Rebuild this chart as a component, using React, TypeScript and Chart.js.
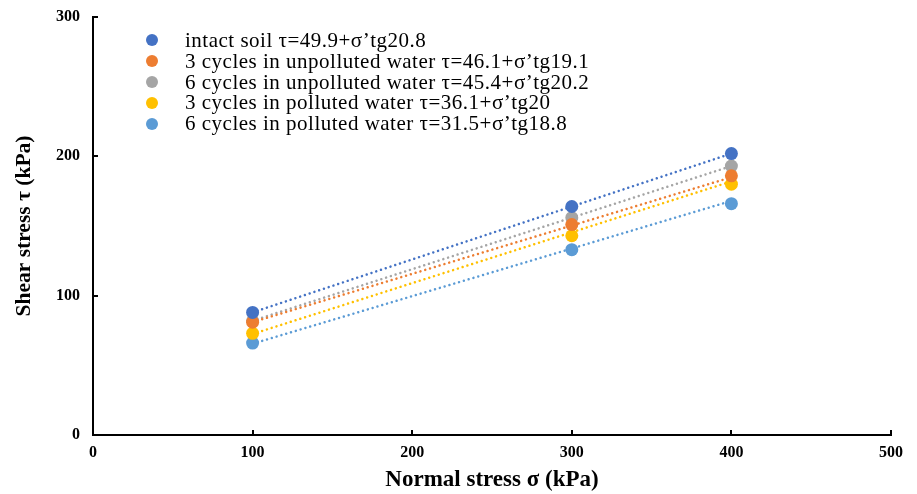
import React, { useEffect, useRef } from 'react';
import { Chart, registerables } from 'chart.js';
Chart.register(...registerables);

const normalStress = [100, 300, 400];
const intactSoil = [88, 164, 202];
const cycles3Unpolluted = [81, 151, 186];
const cycles6Unpolluted = [82, 156, 193];
const cycles3Polluted = [73, 143, 180];
const cycles6Polluted = [66, 133, 166];

const trendStress = [100, 400];
const intactTrend = [88, 202];
const cycles3UnpollutedTrend = [81, 185];
const cycles6UnpollutedTrend = [82, 193];
const cycles3PollutedTrend = [72.5, 182];
const cycles6PollutedTrend = [65.5, 168];

const seriesLabels = [
  'intact soil τ=49.9+σ’tg20.8',
  '3 cycles in unpolluted water τ=46.1+σ’tg19.1',
  '6 cycles in unpolluted water τ=45.4+σ’tg20.2',
  '3 cycles in polluted water τ=36.1+σ’tg20',
  '6 cycles in polluted water τ=31.5+σ’tg18.8',
];
const colors = ['#4472C4', '#ED7D31', '#A5A5A5', '#FFC000', '#5B9BD5'];
const pointSeries = [intactSoil, cycles3Unpolluted, cycles6Unpolluted, cycles3Polluted, cycles6Polluted];
const trendSeries = [intactTrend, cycles3UnpollutedTrend, cycles6UnpollutedTrend, cycles3PollutedTrend, cycles6PollutedTrend];

const xTicks = [0, 100, 200, 300, 400, 500];
const yTicks = [0, 100, 200, 300];

const FONT = '"Liberation Serif", "Times New Roman", serif';

const innerTicks = {
  id: 'innerTicks',
  afterDraw(chart: any) {
    const ctx = chart.ctx;
    const xs = chart.scales.x;
    const ys = chart.scales.y;
    ctx.save();
    ctx.strokeStyle = '#000';
    ctx.lineWidth = 2;
    const bottom = ys.getPixelForValue(0);
    const left = xs.getPixelForValue(0);
    xTicks.forEach((v) => {
      if (v === 0) return;
      const px = Math.round(xs.getPixelForValue(v));
      ctx.beginPath();
      ctx.moveTo(px, bottom);
      ctx.lineTo(px, bottom - 5);
      ctx.stroke();
    });
    yTicks.forEach((v) => {
      if (v === 0) return;
      const py = Math.round(ys.getPixelForValue(v));
      ctx.beginPath();
      ctx.moveTo(left, py);
      ctx.lineTo(left + 5, py);
      ctx.stroke();
    });
    ctx.restore();
  },
};

export default function App() {
  const ref = useRef<HTMLCanvasElement | null>(null);
  useEffect(() => {
    document.body.style.margin = '0';
    const datasets: any[] = [];
    pointSeries.forEach((vals, i) => {
      datasets.push({
        label: seriesLabels[i],
        data: normalStress.map((x, j) => ({ x, y: vals[j] })),
        backgroundColor: colors[i],
        borderColor: colors[i],
        pointRadius: 6.5,
        pointBorderWidth: 0,
        showLine: false,
        order: i,
      });
    });
    trendSeries.forEach((vals, i) => {
      datasets.push({
        label: seriesLabels[i] + ' trend',
        data: trendStress.map((x, j) => ({ x, y: vals[j] })),
        borderColor: colors[i],
        borderWidth: 2.5,
        borderDash: [0.01, 5],
        borderCapStyle: 'round',
        pointRadius: 0,
        showLine: true,
        fill: false,
        order: 10 + i,
      });
    });
    const chart = new Chart(ref.current!, {
      type: 'scatter',
      data: { datasets },
      plugins: [innerTicks],
      options: {
        responsive: false,
        animation: false,
        layout: { padding: { top: 17, right: 26, left: 0, bottom: 0 } },
        plugins: { legend: { display: false }, tooltip: { enabled: false } },
        scales: {
          x: {
            type: 'linear',
            min: 0,
            max: 500,
            afterBuildTicks: (s: any) => { s.ticks = xTicks.map((v) => ({ value: v })); },
            afterFit: (s: any) => { s.height = 59; s.paddingLeft = 0; s.paddingRight = 0; },
            grid: { display: false, drawTicks: false },
            border: { display: true, color: '#000', width: 2 },
            ticks: { color: '#000', padding: 8, font: { family: FONT, size: 16, weight: 'bold' } },
            title: {
              display: true,
              text: 'Normal stress σ (kPa)',
              color: '#000',
              padding: { top: 4, bottom: 0 },
              font: { family: FONT, size: 23, weight: 'bold' },
            },
          },
          y: {
            type: 'linear',
            min: 0,
            max: 300,
            afterBuildTicks: (s: any) => { s.ticks = yTicks.map((v) => ({ value: v })); },
            afterFit: (s: any) => { s.width = 93; s.paddingTop = 0; s.paddingBottom = 0; },
            grid: { display: false, drawTicks: false },
            border: { display: true, color: '#000', width: 2 },
            ticks: { color: '#000', padding: 13, font: { family: FONT, size: 16, weight: 'bold' } },
            title: {
              display: true,
              text: 'Shear stress τ (kPa)',
              color: '#000',
              padding: { top: 12, bottom: 0 },
              font: { family: FONT, size: 21.5, weight: 'bold' },
            },
          },
        },
      } as any,
    });
    return () => chart.destroy();
  }, []);

  return (
    <div style={{ position: 'relative', width: 917, height: 494, background: '#fff' }}>
      <canvas ref={ref} width={917} height={494} style={{ display: 'block' }} />
      <div
        style={{
          position: 'absolute',
          left: 146,
          top: 30,
          fontFamily: FONT,
          fontSize: 21,
          lineHeight: '20.8px',
          letterSpacing: '0.5px',
          color: '#000',
        }}
      >
        {seriesLabels.map((l, i) => (
          <div key={i} style={{ display: 'flex', alignItems: 'center', whiteSpace: 'nowrap', height: 20.8 }}>
            <span
              style={{
                display: 'inline-block',
                width: 12,
                height: 12,
                borderRadius: '50%',
                background: colors[i],
                marginRight: 27,
                flex: 'none',
              }}
            />
            <span>{l}</span>
          </div>
        ))}
      </div>
    </div>
  );
}
